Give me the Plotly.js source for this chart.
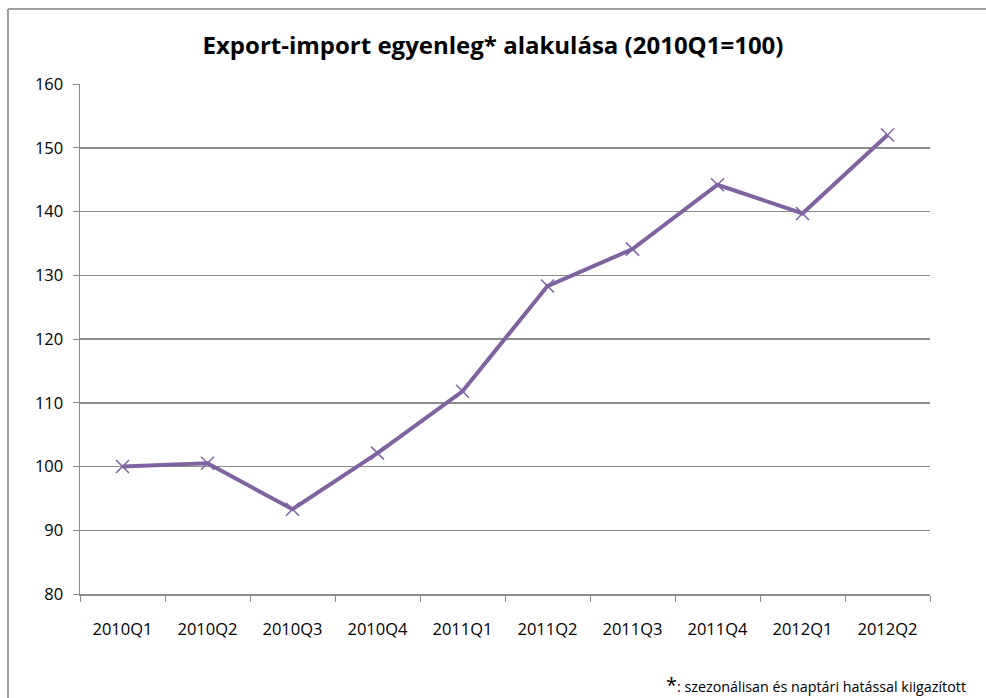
<!DOCTYPE html>
<html>
<head>
<meta charset="utf-8">
<script src="https://cdn.plot.ly/plotly-3.0.1.min.js"></script>
<style>html,body{margin:0;padding:0;background:#fff;overflow:hidden;}#chart{width:986px;height:698px;}</style>
</head>
<body>
<div id="chart"></div>
<script>
const categories = ["2010Q1","2010Q2","2010Q3","2010Q4","2011Q1","2011Q2","2011Q3","2011Q4","2012Q1","2012Q2"];
const balanceIndex = [100, 100.5, 93.3, 102.1, 111.8, 128.3, 134.1, 144.2, 139.7, 152.0];
const yTicks = [80, 90, 100, 110, 120, 130, 140, 150, 160];
const titleText = "Export-import egyenleg* alakulása (2010Q1=100)";
const footnoteText = "<span style='font-size:20px'>*</span>: szezonálisan és naptári hatással kiigazított";

const trace = {
  x: categories,
  y: balanceIndex,
  type: "scatter",
  mode: "lines+markers",
  line: {color: "#7f63a1", width: 4},
  marker: {symbol: "x-thin-open", size: 13, color: "#7f63a1", line: {color: "#7f63a1", width: 1.5}},
  hoverinfo: "x+y"
};

const tickFont = {family: "'Open Sans', sans-serif", size: 16.5, color: "#000"};

const layout = {
  width: 986, height: 698,
  margin: {l: 80, r: 56, t: 84, b: 104},
  paper_bgcolor: "#ffffff", plot_bgcolor: "#ffffff",
  showlegend: false,
  title: {text: "<b>" + titleText + "</b>", x: 0.5, xanchor: "center", y: 0.935, yanchor: "middle",
          font: {family: "'Open Sans', sans-serif", size: 24, color: "#000"}},
  xaxis: {
    type: "category", categoryorder: "array", categoryarray: categories,
    range: [-0.5, categories.length - 0.5],
    showgrid: false, zeroline: false,
    showline: true, linecolor: "#8c8c8c", linewidth: 1.5,
    ticks: "outside", ticklen: 6, tickcolor: "#8c8c8c", tickwidth: 1,
    tickson: "boundaries",
    tickfont: tickFont,
    ticklabelstandoff: 20,
    fixedrange: true
  },
  yaxis: {
    range: [80, 160], tickvals: yTicks, ticktext: yTicks.map(String),
    showgrid: true, gridcolor: "#8c8c8c", gridwidth: 1.5,
    zeroline: false, showline: true, linecolor: "#8c8c8c", linewidth: 1.5,
    ticks: "outside", ticklen: 6, tickcolor: "#8c8c8c",
    tickfont: tickFont,
    ticklabelstandoff: 6,
    fixedrange: true
  },
  shapes: [
    {type: "line", xref: "paper", yref: "paper", x0: -0.0847, x1: -0.0847, y0: -0.21, y1: 1.147,
     line: {color: "#a0a0a0", width: 2}, layer: "below"},
    {type: "line", xref: "paper", yref: "paper", x0: -0.0847, x1: 1.066, y0: 1.147, y1: 1.147,
     line: {color: "#a0a0a0", width: 2}, layer: "below"}
  ],
  annotations: [{
    text: footnoteText, xref: "paper", yref: "paper",
    x: 1.045, y: -0.178, xanchor: "right", yanchor: "middle", showarrow: false,
    font: {family: "'Open Sans', sans-serif", size: 14.3, color: "#000"}
  }]
};

Plotly.newPlot("chart", [trace], layout, {displayModeBar: false, staticPlot: true});
</script>
</body>
</html>
